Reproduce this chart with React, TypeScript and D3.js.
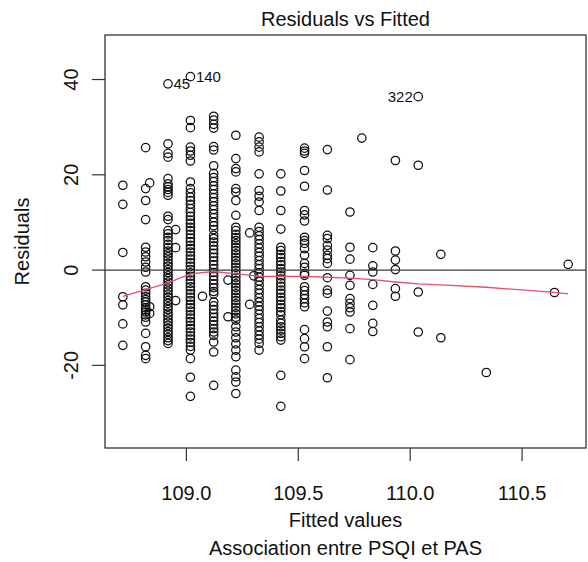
import React from "react";
import * as d3 from "d3";

// Fitted value levels (x) and the residuals (y) observed at each level
const fittedLevels = [
  108.716, 108.818, 108.836, 108.918, 108.952, 109.018, 109.072, 109.122,
  109.186, 109.221, 109.283, 109.301, 109.325, 109.422, 109.528, 109.63,
  109.731, 109.784, 109.833, 109.934, 110.036, 110.137, 110.34, 110.645, 110.706,
];

const resA = [17.8, 13.8, 3.7, -5.6, -7.3, -11.3, -15.8];
const resB = [25.7, 17.1, 14.6, 10.6, 4.8, 3.8, 2.8, 1.7, 0.6, -0.4, -3.5, -4.2, -4.9, -5.6, -6.2, -6.7, -7.3, -7.9, -8.4, -8.8, -9.4, -9.9, -10.9, -13.3, -16.1, -17.9, -18.6];
const resB2 = [18.3, -7.7, -9.1];
const resC = [39.1, 26.5, 24.5, 23.7, 19.2, 18.1, 17.5, 16.9, 16.3, 15.7, 11.3, 10.6, 8.3, 7.6, 6.9, 6.2, 5.4, 4.7, 4.0, 3.4, 2.8, 2.1, 1.4, 0.8, 0.1, -0.5, -1.2, -1.8, -2.5, -3.1, -3.8, -4.4, -5.1, -5.7, -6.4, -7.0, -7.7, -8.3, -9.0, -9.6, -10.3, -10.9, -11.6, -12.2, -12.9, -13.5, -14.2, -14.8, -15.4];
const resC2 = [8.5, 4.7, -6.4];
const resD = [40.6, 31.4, 29.9, 25.8, 25.0, 24.1, 22.9, 18.5, 17.1, 16.2, 15.3, 14.6, 13.8, 12.9, 12.1, 11.3, 10.5, 9.8, 9.0, 8.3, 7.5, 6.7, 6.0, 5.2, 4.5, 3.8, 3.0, 2.3, 1.5, 0.8, 0.1, -0.6, -1.3, -2.1, -2.8, -3.5, -4.2, -5.0, -5.7, -6.4, -7.2, -7.9, -8.6, -9.4, -10.1, -10.8, -11.6, -12.3, -13.0, -13.8, -14.5, -15.2, -16.0, -16.8, -18.6, -22.5, -26.5];
const resD2 = [-5.5];
const resE = [32.3, 31.5, 30.6, 29.8, 25.9, 25.2, 21.9, 20.3, 19.4, 18.6, 17.7, 16.9, 16.0, 15.2, 14.4, 13.5, 12.7, 11.8, 11.0, 10.1, 9.3, 8.5, 7.3, 6.6, 5.9, 5.1, 4.3, 3.5, 2.7, 1.9, 1.1, 0.3, -0.5, -1.3, -2.1, -2.9, -3.7, -4.5, -5.0, -6.7, -7.5, -8.3, -9.1, -9.9, -10.7, -11.5, -12.3, -13.0, -13.7, -15.1, -17.2, -24.2];
const resE2 = [-2.1, -9.8];
const resF = [28.3, 23.4, 21.3, 20.6, 17.1, 16.4, 14.6, 11.5, 9.0, 8.3, 7.5, 6.8, 6.2, 5.5, 4.8, 4.1, 3.4, 2.7, 2.0, 1.3, 0.6, -0.1, -0.8, -1.5, -2.2, -2.9, -3.6, -4.3, -5.0, -5.7, -6.4, -7.1, -7.8, -8.5, -9.2, -9.9, -10.5, -11.9, -13.0, -14.2, -15.5, -16.8, -18.2, -21.0, -22.4, -23.5, -25.9];
const resF2 = [7.8, -7.2];
const resF3 = [-1.2];
const resG = [27.9, 26.9, 25.8, 24.8, 20.2, 16.7, 15.5, 14.3, 12.5, 9.0, 8.1, 7.2, 6.4, 5.5, 4.6, 3.7, 2.9, 2.0, 1.1, 0.3, -0.6, -1.5, -2.3, -3.2, -4.1, -4.9, -5.8, -6.7, -7.6, -8.4, -9.3, -10.2, -11.0, -11.9, -12.8, -13.7, -14.5, -15.4, -16.8];
const resH = [20.2, 16.6, 12.5, 8.6, 4.8, 4.1, 3.3, 2.6, 1.8, 1.1, 0.3, -0.4, -1.2, -1.9, -2.7, -3.4, -4.2, -4.9, -5.7, -6.4, -7.2, -7.9, -8.7, -9.4, -10.5, -11.2, -11.9, -12.6, -13.3, -14.0, -14.7, -22.1, -28.6];
const resI = [25.6, 25.0, 24.5, 20.9, 17.6, 12.5, 11.6, 10.3, 6.9, 6.2, 5.6, 4.5, 3.1, 1.4, 0.6, -0.7, -1.1, -3.5, -4.3, -5.2, -6.0, -6.9, -7.7, -12.5, -14.4, -16.1, -18.6];
const resJ = [25.3, 16.8, 7.3, 6.6, 5.2, 4.2, 3.1, 2.4, 1.4, -1.6, -4.2, -4.9, -8.6, -10.9, -11.9, -16.1, -22.6];
const resK = [12.2, 4.8, 2.3, -1.1, -3.2, -6.0, -7.0, -7.9, -8.8, -12.3, -18.8];
const resK2 = [27.7];
const resL = [4.7, 0.9, -0.4, -3.0, -7.4, -11.2, -12.9];
const resM = [23.0, 4.0, 2.1, 0.1, -3.9, -5.5];
const resN = [36.4, 22.0, -4.6, -13.0];
const resO = [3.3, -14.2];
const resP = [-21.5];
const resQ = [-4.7];
const resR = [1.2];

const residualsByLevel = [
  resA, resB, resB2, resC, resC2, resD, resD2, resE, resE2, resF, resF2, resF3,
  resG, resH, resI, resJ, resK, resK2, resL, resM, resN, resO, resP, resQ, resR,
];

// Labels of the three largest |residuals| (ordered by |residual| desc)
const idLabels = ["140", "45", "322"];

// Red smoother
const loessFitted = [108.716, 108.818, 108.918, 109.018, 109.122, 109.221, 109.325, 109.422, 109.528, 109.63, 109.731, 109.833, 109.934, 110.036, 110.137, 110.34, 110.645, 110.706];
const loessResid = [-5.5, -4.1, -2.7, -0.8, -0.3, -0.8, -1.3, -1.3, -1.3, -1.5, -1.7, -2.0, -2.5, -2.9, -3.1, -3.6, -4.7, -5.0];

const xTicks = [109.0, 109.5, 110.0, 110.5];
const yTicks = [-20, 0, 20, 40];

const W = 588;
const H = 562;
const plot = { left: 105, right: 586, top: 35, bottom: 448 };
const FONT = "'Liberation Sans', Arial, Helvetica, sans-serif";

function extend(lo: number, hi: number, f: number): [number, number] {
  const d = (hi - lo) * f;
  return [lo - d, hi + d];
}

export default function App() {
  const points: { x: number; y: number }[] = [];
  residualsByLevel.forEach((arr, i) => {
    arr.forEach((r) => points.push({ x: fittedLevels[i], y: r }));
  });

  const xr = d3.extent(points, (p) => p.x) as [number, number];
  const yr0 = d3.extent(points, (p) => p.y) as [number, number];
  const yr1 = extend(yr0[0], yr0[1], 0.08);

  const x = d3.scaleLinear().domain(extend(xr[0], xr[1], 0.04)).range([plot.left, plot.right]);
  const y = d3.scaleLinear().domain(extend(yr1[0], yr1[1], 0.04)).range([plot.bottom, plot.top]);

  const line = d3
    .line<number>()
    .x((_, i) => x(loessFitted[i]))
    .y((d) => y(d));

  const sorted = [...points].sort((a, b) => Math.abs(b.y) - Math.abs(a.y)).slice(0, 3);
  const midX = (xr[0] + xr[1]) / 2;

  const cx = (plot.left + plot.right) / 2;
  const cy = (plot.top + plot.bottom) / 2;

  return (
    <svg
      width={W}
      height={H}
      style={{ position: "absolute", left: 0, top: 0, background: "#fff" }}
      fontFamily={FONT}
    >
      <rect x={0} y={0} width={W} height={H} fill="#fff" />
      {/* points */}
      <g fill="none" stroke="#111" strokeWidth={1.25}>
        {points.map((p, i) => (
          <circle key={i} cx={x(p.x)} cy={y(p.y)} r={4.2} />
        ))}
      </g>
      {/* smoother */}
      <path d={line(loessResid) || ""} fill="none" stroke="#DF536B" strokeWidth={1.3} />
      {/* zero line */}
      <line x1={plot.left} x2={plot.right} y1={y(0)} y2={y(0)} stroke="#3a3a3a" strokeWidth={1.1} />
      {/* labels */}
      {sorted.map((p, i) => {
        const right = p.x <= midX;
        return (
          <text
            key={i}
            x={x(p.x) + (right ? 5.5 : -5.5)}
            y={y(p.y)}
            dy="0.35em"
            textAnchor={right ? "start" : "end"}
            fontSize={15}
            fill="#111"
          >
            {idLabels[i]}
          </text>
        );
      })}
      {/* box */}
      <rect
        x={plot.left}
        y={plot.top}
        width={plot.right - plot.left}
        height={plot.bottom - plot.top}
        fill="none"
        stroke="#333"
        strokeWidth={1.3}
      />
      {/* ticks */}
      <g stroke="#333" strokeWidth={1.2}>
        {xTicks.map((t) => (
          <line key={t} x1={x(t)} x2={x(t)} y1={plot.bottom} y2={plot.bottom + 13} />
        ))}
        {yTicks.map((t) => (
          <line key={t} x1={plot.left} x2={plot.left - 13} y1={y(t)} y2={y(t)} />
        ))}
      </g>
      <g fontSize={20} fill="#111">
        {xTicks.map((t) => (
          <text key={t} x={x(t)} y={500} textAnchor="middle">
            {d3.format(".1f")(t)}
          </text>
        ))}
        {yTicks.map((t) => (
          <text key={t} transform={`translate(78,${y(t)}) rotate(-90)`} textAnchor="middle">
            {String(t)}
          </text>
        ))}
        <text x={cx} y={527} textAnchor="middle">Fitted values</text>
        <text x={cx} y={555} textAnchor="middle">Association entre PSQI et PAS</text>
        <text transform={`translate(29,${cy}) rotate(-90)`} textAnchor="middle">Residuals</text>
        <text x={cx} y={26} textAnchor="middle">Residuals vs Fitted</text>
      </g>
    </svg>
  );
}
